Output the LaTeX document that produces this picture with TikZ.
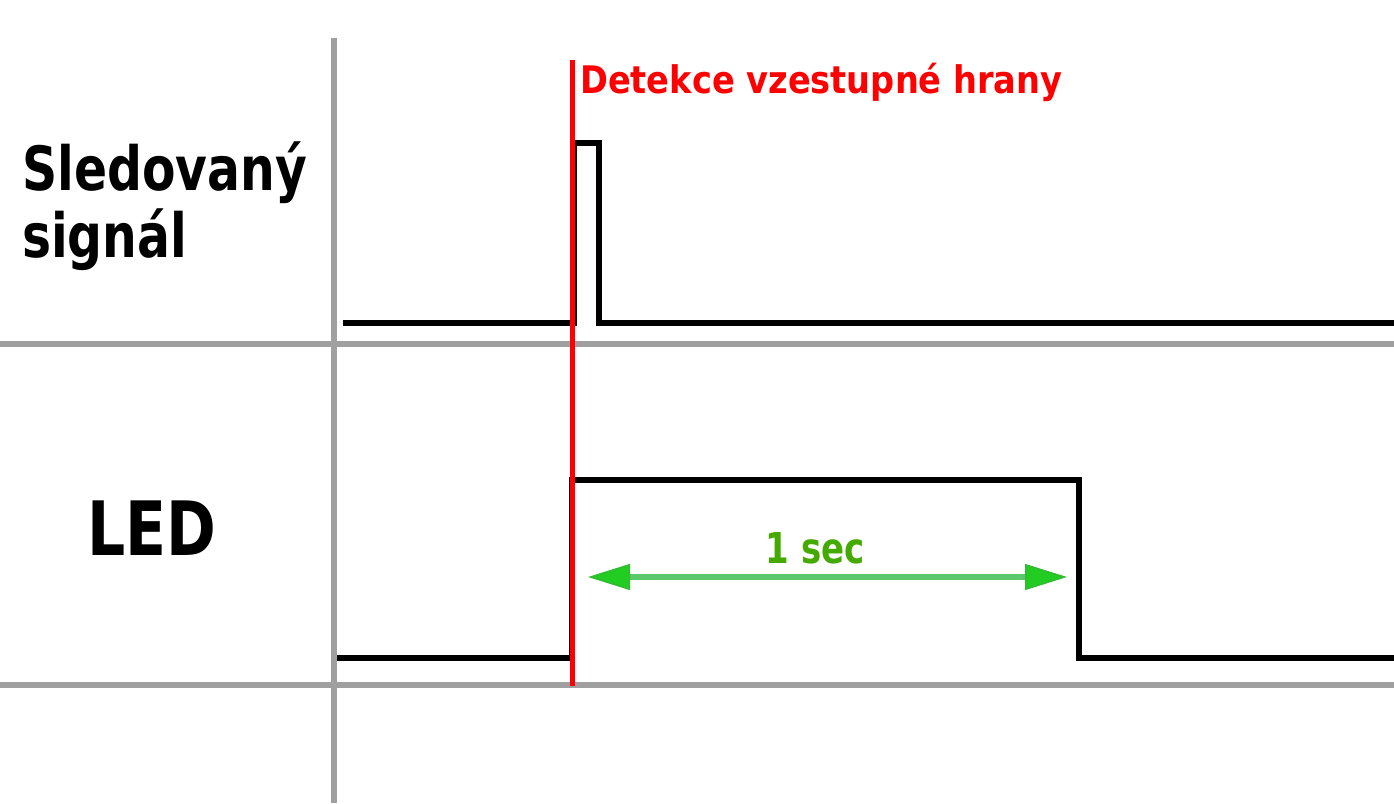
\documentclass[tikz,border=0pt]{standalone}
\usepackage{fontspec}
\usetikzlibrary{arrows.meta}
\newfontfamily\lblfont{DejaVu Sans}[FakeStretch=0.8]
\newfontfamily\edgefont{DejaVu Sans}[FakeStretch=0.885]
\definecolor{gridgray}{HTML}{A0A0A0}
\definecolor{durgreen}{HTML}{44AA00}
\definecolor{shaftgreen}{HTML}{5CC86C}
\definecolor{headgreen}{HTML}{22CC22}
\definecolor{rimgreen}{HTML}{33BB33}

\def\tdgrid{
    % \draw[help lines] (0, 0) grid[step=100] (1394, 803);
    \path[draw=gridgray, line width=5.5pt] (334, 38) -- (334, 803);
    \path[draw=gridgray, line width=5.5pt] (0, 344) -- (1394, 344);
    \path[draw=gridgray, line width=5.5pt] (0, 685) -- (1394, 685);
  }

\begin{document}
\begin{tikzpicture}[x=1pt, y=-1pt,
    wave/.style={draw=black, line width=5.5pt},
    label/.style={inner sep=0, anchor=base west, font=\lblfont\bfseries}]
    \useasboundingbox (0, 0) rectangle (1394, 803);
    \tdgrid
    \node[label, font=\lblfont\bfseries\fontsize{61}{67}\selectfont] (sigtop) at (22, 190) {Sledovaný};
    \node[label, font=\lblfont\bfseries\fontsize{61}{67}\selectfont] (sigbot) at (22, 257) {signál};
    \node[label, font=\lblfont\bfseries\fontsize{75}{80}\selectfont] (led) at (87, 555) {LED};
    % sledovany signal
    \path[wave] (343, 323) -- (574, 323) -- (574, 143) -- (599, 143) -- (599, 323) -- (1394, 323);
    % LED
    \path[wave] (337, 658) -- (572, 658) -- (572, 480) -- (1079, 480) -- (1079, 658) -- (1394, 658);
    % detekce hrany
    \coordinate (edgetop) at (572, 60);
    \coordinate (edgebot) at (572, 686);
    \path[draw=red, line width=5pt] (edgetop) -- (edgebot);
    \node[inner sep=0, anchor=base west, text=red, font=\edgefont\bfseries\fontsize{38}{44}\selectfont] (edge) at (580, 93) {Detekce vzestupné hrany};
    % 1 sec
    \coordinate (durA) at (588, 577);
    \coordinate (durB) at (1067, 577);
    \path[draw=shaftgreen, line width=6pt,
      {Triangle[length=42pt, width=26pt, line width=1.5pt, color=rimgreen, fill=headgreen]}-{Triangle[length=42pt, width=26pt, line width=1.5pt, color=rimgreen, fill=headgreen]}]
      (durA) -- (durB);
    \node[inner sep=0, anchor=base, text=durgreen, font=\lblfont\bfseries\fontsize{42.5}{48}\selectfont] (dur) at (815, 563) {1 sec};
  \end{tikzpicture}
\end{document}
